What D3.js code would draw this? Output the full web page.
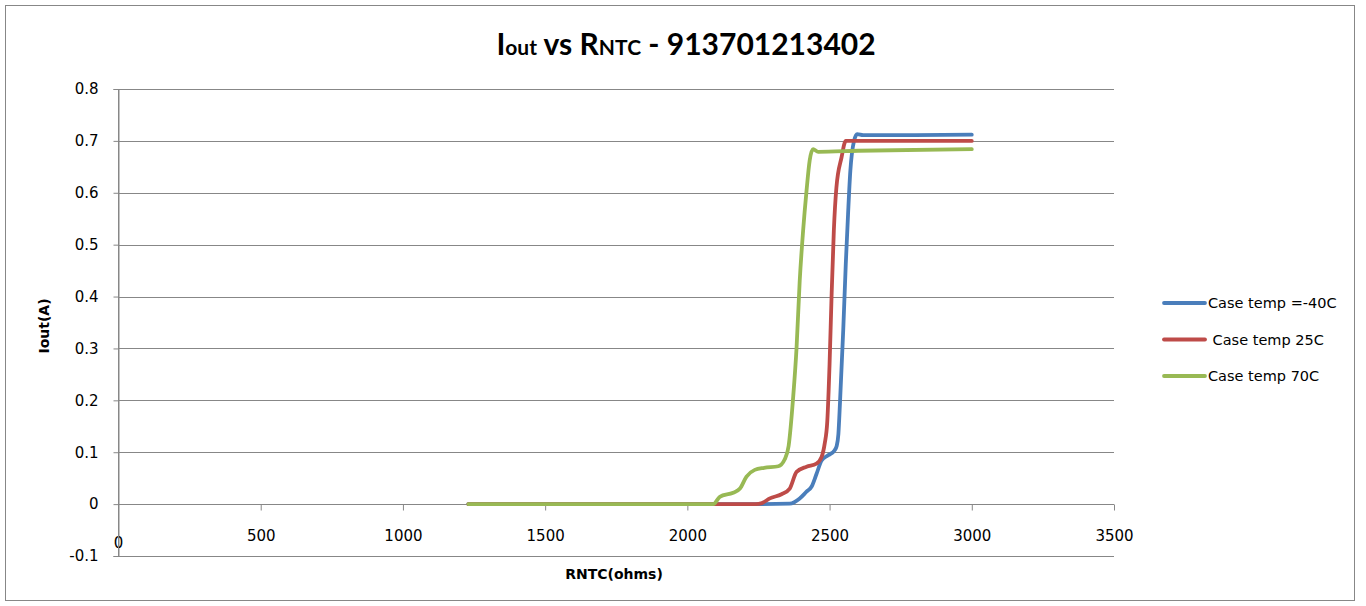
<!DOCTYPE html>
<html>
<head>
<meta charset="utf-8">
<script src="https://cdn.jsdelivr.net/npm/d3@7"></script>
<style>
  html, body { margin: 0; padding: 0; background: #fff; }
  svg text { white-space: pre; }
</style>
</head>
<body>
<svg id="chart" width="1366" height="606"></svg>
<script>
// series data: RNTC (ohms) vs Iout (A)
const seriesNames = ['Case temp =-40C', ' Case temp 25C', 'Case temp 70C'];
const seriesColors = ['#4a7ebb', '#be4b48', '#98b954'];

const rntcCold = [1230, 2250, 2360, 2395, 2419, 2437, 2454, 2472, 2495, 2518, 2525, 2531, 2537, 2548, 2557, 2565, 2573, 2586, 2597, 2618, 2800, 3000];
const ioutCold = [0, 0, 0.001, 0.011, 0.024, 0.034, 0.058, 0.084, 0.094, 0.104, 0.112, 0.135, 0.2, 0.335, 0.463, 0.559, 0.642, 0.700, 0.713, 0.711, 0.711, 0.712];

const rntcRoom = [1230, 2240, 2262, 2290, 2331, 2360, 2384, 2419, 2454, 2472, 2483, 2492, 2500, 2507, 2515, 2524, 2542, 2557, 2600, 3000];
const ioutRoom = [0, 0, 0.002, 0.011, 0.019, 0.030, 0.062, 0.072, 0.078, 0.091, 0.117, 0.16, 0.27, 0.40, 0.527, 0.61, 0.668, 0.700, 0.700, 0.700];

const rntcHot = [1230, 2091, 2114, 2161, 2185, 2208, 2237, 2270, 2320, 2342, 2356, 2372, 2384, 2395, 2407, 2419, 2430, 2442, 2460, 2600, 3000];
const ioutHot = [0, 0, 0.014, 0.022, 0.030, 0.053, 0.066, 0.070, 0.073, 0.086, 0.112, 0.206, 0.302, 0.43, 0.527, 0.604, 0.662, 0.684, 0.679, 0.681, 0.684];

const xTicks = [0, 500, 1000, 1500, 2000, 2500, 3000, 3500];
const yTicks = [-0.1, 0, 0.1, 0.2, 0.3, 0.4, 0.5, 0.6, 0.7, 0.8];

const series = [
  { name: seriesNames[0], color: seriesColors[0], xs: rntcCold, ys: ioutCold },
  { name: seriesNames[1], color: seriesColors[1], xs: rntcRoom, ys: ioutRoom },
  { name: seriesNames[2], color: seriesColors[2], xs: rntcHot, ys: ioutHot }
];

const svg = d3.select('#chart');
const grid = '#878787';
const font = 'DejaVu Sans';

const x = d3.scaleLinear().domain([0, 3500]).range([118.5, 1114]);
const y = d3.scaleLinear().domain([-0.1, 0.8]).range([556, 89]);

// chart border
svg.append('rect')
  .attr('x', 5.5).attr('y', 5.5)
  .attr('width', 1349).attr('height', 595)
  .attr('fill', '#fff')
  .attr('stroke', grid)
  .attr('stroke-width', 1);

// left tick marks + labels (plain hyphen for negatives like the original)
const yAxis = d3.axisLeft(y)
  .tickValues(yTicks)
  .tickSize(5)
  .tickPadding(15)
  .tickFormat(d => String(+d.toFixed(1)));

const gy = svg.append('g')
  .attr('transform', 'translate(' + x(0) + ',0)')
  .call(yAxis);
gy.select('.domain').attr('stroke', grid);
gy.selectAll('.tick line').attr('stroke', grid);
gy.selectAll('.tick text')
  .attr('fill', '#000')
  .attr('font-family', font)
  .attr('font-size', 15);

// horizontal gridlines
svg.append('g')
  .selectAll('line')
  .data(yTicks)
  .join('line')
  .attr('x1', x(0)).attr('x2', x(3500))
  .attr('y1', d => Math.round(y(d)) + 0.5)
  .attr('y2', d => Math.round(y(d)) + 0.5)
  .attr('stroke', grid)
  .attr('stroke-width', 1);

// x axis sits on the zero line
const xAxis = d3.axisBottom(x)
  .tickValues(xTicks.slice(1))
  .tickSize(6)
  .tickPadding(20)
  .tickFormat(d => String(d));

const gx = svg.append('g')
  .attr('transform', 'translate(0,' + (Math.round(y(0)) + 0.5) + ')')
  .call(xAxis);
gx.select('.domain').remove();
gx.selectAll('.tick line').attr('stroke', grid);
gx.selectAll('.tick text')
  .attr('fill', '#000')
  .attr('font-family', font)
  .attr('font-size', 15);

svg.append('text')
  .attr('x', x(0))
  .attr('y', Math.round(y(0)) + 44)
  .attr('text-anchor', 'middle')
  .attr('font-family', font)
  .attr('font-size', 15)
  .text(xTicks[0]);

// y axis line on top of gridlines
svg.append('line')
  .attr('x1', x(0)).attr('x2', x(0))
  .attr('y1', y(0.8)).attr('y2', y(-0.1))
  .attr('stroke', grid);

// series lines
const line = d3.line()
  .x(d => x(d[0]))
  .y(d => y(d[1]))
  .curve(d3.curveMonotoneX);

series.forEach(s => {
  const pts = s.xs.map((v, i) => [v, s.ys[i]]);
  svg.append('path')
    .datum(pts)
    .attr('d', line)
    .attr('fill', 'none')
    .attr('stroke', s.color)
    .attr('stroke-width', 3.8)
    .attr('stroke-linecap', 'round')
    .attr('stroke-linejoin', 'round');
});

// title
const title = svg.append('text')
  .attr('x', 686)
  .attr('y', 55)
  .attr('text-anchor', 'middle')
  .attr('font-family', 'Lato')
  .attr('font-weight', 'bold')
  .attr('font-size', 30)
  .attr('fill', '#000');
title.append('tspan').text('I');
title.append('tspan').attr('font-size', 21).text('out');
title.append('tspan').text(' vs R');
title.append('tspan').attr('font-size', 21).text('NTC');
title.append('tspan').text(' - 913701213402');

// axis titles
svg.append('text')
  .attr('transform', 'translate(49,326) rotate(-90)')
  .attr('text-anchor', 'middle')
  .attr('font-family', font)
  .attr('font-weight', 'bold')
  .attr('font-size', 14)
  .text('Iout(A)');

svg.append('text')
  .attr('x', 614)
  .attr('y', 579)
  .attr('text-anchor', 'middle')
  .attr('font-family', font)
  .attr('font-weight', 'bold')
  .attr('font-size', 14)
  .text('RNTC(ohms)');

// legend
const legend = svg.append('g')
  .selectAll('g')
  .data(series)
  .join('g')
  .attr('transform', (d, i) => 'translate(1164,' + (303 + i * 36.5) + ')');

legend.append('line')
  .attr('x1', 0).attr('x2', 41)
  .attr('stroke', d => d.color)
  .attr('stroke-width', 3.8)
  .attr('stroke-linecap', 'round');

legend.append('text')
  .attr('x', 44)
  .attr('y', 5)
  .attr('font-family', font)
  .attr('font-size', 14.5)
  .text(d => d.name);
</script>
</body>
</html>
